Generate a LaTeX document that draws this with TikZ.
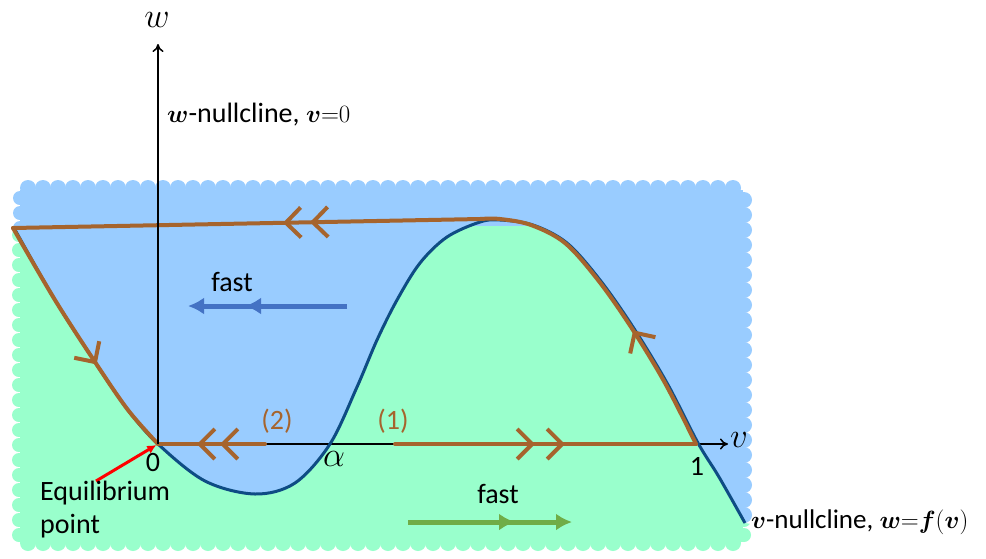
\documentclass[tikz,border=0pt]{standalone}
\usepackage[no-math]{fontspec}
\setmainfont{Carlito}
\usepackage{amsmath}
\usepackage{bm}
\usetikzlibrary{arrows.meta,decorations.markings}

\definecolor{skyfill}{RGB}{153,204,255}
\definecolor{mintfill}{RGB}{153,255,204}
\definecolor{nullblue}{RGB}{14,76,132}
\definecolor{trajbrown}{RGB}{166,100,45}
\definecolor{fastblue}{RGB}{68,114,196}
\definecolor{fastgreen}{RGB}{112,173,71}

\tikzset{chev/.tip={Straight Barb[length=15pt,width=30pt]}}

\begin{document}
\begin{tikzpicture}[x=1pt, y=-1pt,
    lbl/.style={font=\fontsize{28}{30}\selectfont, inner sep=0pt},
    big/.style={font=\fontsize{24.88}{28}\selectfont, inner sep=0pt, scale=1.4},
    nullc/.style={draw=nullblue, line width=3pt},
    traj/.style={draw=trajbrown, line width=4pt, line cap=round, line join=round},
    markme/.style={postaction={decorate, decoration={markings, mark=at position #1 with {\arrow{chev}}}}},
    axis/.style={draw=black, line width=1.5pt, -{To[length=8pt,width=11pt]}},
    fastarr/.style={line width=5pt, -{Latex[length=16pt,width=17pt]}},
    headme/.style={postaction={decorate, decoration={markings, mark=at position #1 with {\arrow{Latex[length=16pt,width=17pt]}}}}}]
\useasboundingbox (0,0) rectangle (986,558);

% coloured regions
\fill[skyfill] (20,190) rectangle (743,525);
\foreach \x in {28,43,...,738} \fill[skyfill] (\x,188) circle (8);
\foreach \y in {200,215,...,515} \fill[skyfill] (744,\y) circle (8);
\foreach \y in {198,213,228} \fill[skyfill] (20,\y) circle (7);
\begin{scope}
  \clip (0,558) -- (0,228) -- (14,228) -- plot[smooth, tension=0.55] coordinates {(15,229) (55,300) (95,362) (128,410) (158,444) (205,481) (255,494) (295,483) (330,444) (357,387) (377,340) (397,300) (420,263) (447,237) (480,222) (500,220) (533,225) (567,243) (600,280) (633,327) (667,383) (698,443) (719,477) (745,523)} -- (800,532) -- (800,558) -- cycle;
  \fill[mintfill] (20,226) rectangle (743,542);
  \foreach \x in {28,43,...,738} \fill[mintfill] (\x,543) circle (8);
  \foreach \y in {235,250,...,535} \fill[mintfill] (19,\y) circle (7);
  \foreach \y in {505,520,535} \fill[mintfill] (744,\y) circle (7);
\end{scope}

% axes
\coordinate (O) at (158,444);
\coordinate (wtip) at (158,44);
\coordinate (vtip) at (728,444);
\draw[axis] (O) -- (vtip);

% v-nullcline
\draw[nullc] plot[smooth, tension=0.55] coordinates {(14,228) (55,300) (95,362) (128,410) (158,444) (205,481) (255,494) (295,483) (330,444) (357,387) (377,340) (397,300) (420,263) (447,237) (480,222) (500,220) (533,225) (567,243) (600,280) (633,327) (667,383) (698,443) (719,477) (745,523)};

% trajectory
\coordinate (start1) at (395,444);
\coordinate (corner1) at (696,444);
\coordinate (start2) at (265,444);
\coordinate (topR) at (480,219);
\coordinate (topL) at (13,228);
\draw[traj, markme=140pt, markme=170pt] (start1) -- (corner1);
\draw[traj, markme=130pt] plot[smooth, tension=0.55] coordinates {(696,444) (665,383) (631,327) (598,280) (565,243) (531,225) (500,219) (480,219)};
\draw[traj, markme=170pt, markme=197pt] (topR) -- (topL);
\draw[traj, markme=160pt] plot[smooth, tension=0.55] coordinates {(13,228) (55,300) (95,362) (128,410) (158,444)};
\draw[traj, markme=45pt, markme=68pt] (start2) -- (O);
\draw[axis] (O) -- (wtip);

% fast arrows
\coordinate (fbS) at (347,306);
\coordinate (fbE) at (188,306);
\draw[fastblue, fastarr, headme=102pt] (fbS) -- (fbE);
\coordinate (fgS) at (408,522);
\coordinate (fgE) at (572,522);
\draw[fastgreen, fastarr, headme=107pt] (fgS) -- (fgE);

% equilibrium
\coordinate (eqtail) at (96,481);
\draw[red, line width=3pt, shorten >=2pt, -{Latex[length=9pt,width=9pt]}] (eqtail) -- (O);

% labels
\node[big] (wlab) at (157,20) {$w$};
\node[big] (vlab) at (739,440) {$v$};
\node[lbl, anchor=west] (wnull) at (167,115) {$\bm{w}$-nullcline, $\bm{v}{=}0$};
\node[lbl, anchor=west, font=\fontsize{27}{30}\selectfont] (vnull) at (751,522) {$\bm{v}$-nullcline, $\bm{w}{=}\bm{f}(\bm{v})$};
\node[lbl] (fastL) at (232,282) {fast};
\node[lbl] (fastR) at (498,494) {fast};
\node[lbl, text=trajbrown] (lab2) at (277,421) {(2)};
\node[lbl, text=trajbrown] (lab1) at (393,421) {(1)};
\node[lbl] (zero) at (153,463) {0};
\node[big] (alpha) at (334,459) {$\alpha$};
\node[lbl] (one) at (697,466) {1};
\node[lbl, align=left, anchor=north west, font=\fontsize{28}{33}\selectfont] (equil) at (40,481) {Equilibrium\\point};
\end{tikzpicture}
\end{document}
